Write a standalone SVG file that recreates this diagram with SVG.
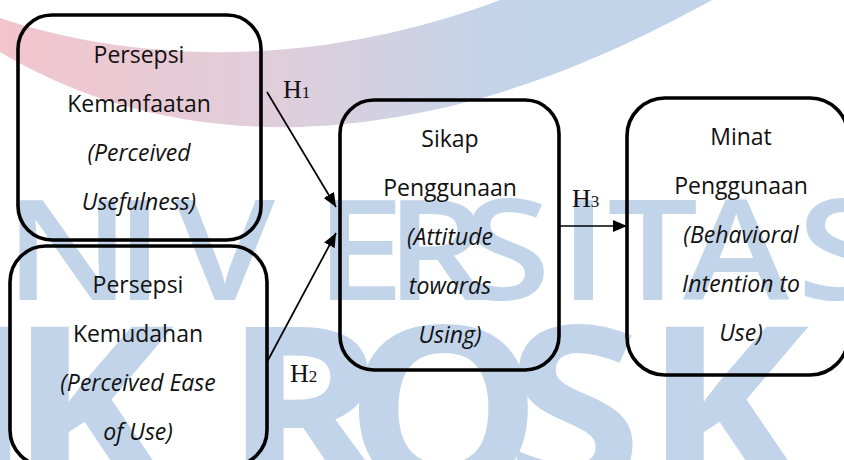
<svg xmlns="http://www.w3.org/2000/svg" width="844" height="460" viewBox="0 0 844 460">
<style>
.wm{fill:#c2d4e9;font-family:"Open Sans",sans-serif}
.box{fill:none;stroke:#000;stroke-width:3.6}
.t{font-family:"Open Sans","Liberation Sans",sans-serif;font-size:23px;fill:#111;text-anchor:middle}
.i{font-style:italic}
.h{font-family:"Liberation Serif",serif;fill:#111}
.c{stroke:#000;stroke-width:1.7;fill:none}
</style>
<defs>
<linearGradient id="arcg" x1="0" y1="0" x2="620" y2="0" gradientUnits="userSpaceOnUse">
<stop offset="0" stop-color="#f3c5cd"/>
<stop offset="0.45" stop-color="#e0cedb"/>
<stop offset="0.8" stop-color="#c3d4e9"/>
<stop offset="1" stop-color="#c2d4e9"/>
</linearGradient>
<marker id="ah" markerUnits="userSpaceOnUse" markerWidth="14" markerHeight="12" refX="14" refY="6" orient="auto">
<path d="M0,0 L14,6 L0,12 Z" fill="#000"/>
</marker>
</defs>
<rect width="844" height="460" fill="#fff"/>
<g id="watermark">
<path d="M0,18 C120,58 300,75 500,0 L712,0 C620,50 480,120 300,127 C180,130 80,100 0,52 Z" fill="url(#arcg)"/>
<text class="wm" font-size="140" font-weight="600" transform="scale(1.15,1)" y="300" x="4 100 152 274 335 402 486 528 594 693">NIVERSITAS</text>
<text class="wm" font-size="230" font-weight="700" transform="scale(1.08,1)" y="491" x="-46 8 207 319 468 596 763">IKROSKI</text>
</g>
<g id="connectors">
<line class="c" x1="267" y1="92" x2="336" y2="207" marker-end="url(#ah)"/>
<line class="c" x1="267" y1="362" x2="336" y2="233" marker-end="url(#ah)"/>
<line class="c" x1="560" y1="226" x2="627" y2="226" marker-end="url(#ah)"/>
<text class="h" x="283" y="98"><tspan font-size="26">H</tspan><tspan font-size="17">1</tspan></text>
<text class="h" x="290" y="382"><tspan font-size="26">H</tspan><tspan font-size="17">2</tspan></text>
<text class="h" x="572" y="207"><tspan font-size="26">H</tspan><tspan font-size="17">3</tspan></text>
</g>
<g id="node-kemanfaatan">
<rect class="box" x="18" y="15" width="243" height="225" rx="34"/>
<text class="t" x="139" y="63">Persepsi</text>
<text class="t" x="139" y="112">Kemanfaatan</text>
<text class="t i" x="139" y="161">(Perceived</text>
<text class="t i" x="139" y="210">Usefulness)</text>
</g>
<g id="node-kemudahan">
<rect class="box" x="10" y="246" width="257" height="220" rx="36"/>
<text class="t" x="138" y="293">Persepsi</text>
<text class="t" x="138" y="342">Kemudahan</text>
<text class="t i" x="138" y="391">(Perceived Ease</text>
<text class="t i" x="138" y="440">of Use)</text>
</g>
<g id="node-sikap">
<rect class="box" x="340" y="100" width="219" height="270" rx="34"/>
<text class="t" x="450" y="147">Sikap</text>
<text class="t" x="450" y="196">Penggunaan</text>
<text class="t i" x="450" y="245">(Attitude</text>
<text class="t i" x="450" y="294">towards</text>
<text class="t i" x="450" y="343">Using)</text>
</g>
<g id="node-minat">
<rect class="box" x="627" y="98" width="221" height="277" rx="38"/>
<text class="t" x="741" y="145">Minat</text>
<text class="t" x="741" y="194">Penggunaan</text>
<text class="t i" x="741" y="243">(Behavioral</text>
<text class="t i" x="741" y="292">Intention to</text>
<text class="t i" x="741" y="341">Use)</text>
</g>
</svg>
